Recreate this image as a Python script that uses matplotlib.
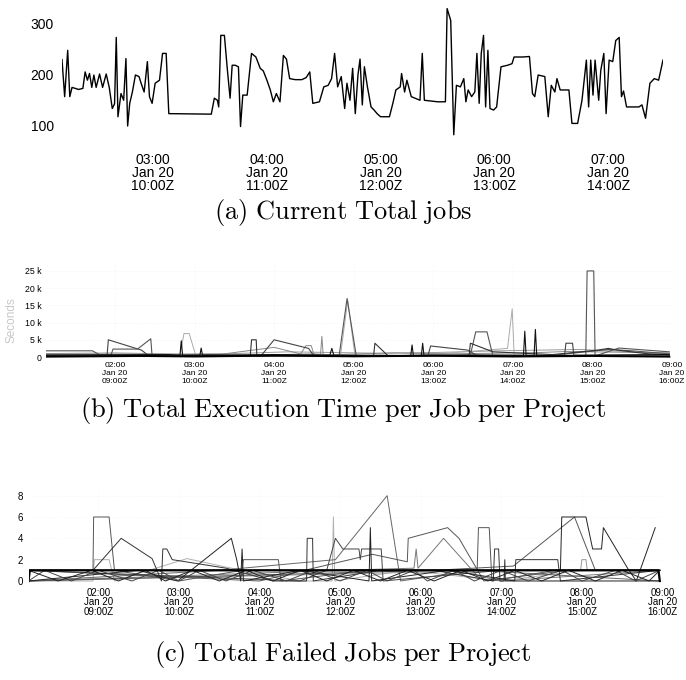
import matplotlib
matplotlib.use("Agg")
import matplotlib.pyplot as plt

plt.rcParams["font.family"] = ["Liberation Sans", "DejaVu Sans"]
plt.rcParams["mathtext.fontset"] = "cm"

# x values are minutes after 02:00 (local) on Jan 20
# (a) current total jobs
jobs_min = [12.1, 13.5, 15.1, 16.2, 17.4, 20.8, 23.1, 24.3, 25.5, 26.6,
            27.8, 28.9, 30.1, 31.9, 33.5, 35.4, 37.0, 38.6, 39.8, 40.7,
            41.6, 43.2, 44.6, 45.8, 46.7, 47.8, 49.2, 50.8, 52.7, 53.8,
            55.4, 57.1, 58.2, 59.6, 61.2, 63.5, 65.1, 67.0, 68.4, 90.8,
            92.4, 94.0, 94.7, 95.8, 97.7, 99.3, 100.7, 101.8, 103.4, 105.1,
            106.2, 107.4, 109.7, 112.0, 114.3, 116.6, 118.2, 120.1, 121.9, 123.5,
            125.1, 127.0, 128.8, 130.4, 132.1, 135.1, 138.5, 140.8, 142.7, 144.3,
            147.8, 150.1, 152.4, 154.2, 155.8, 157.4, 159.3, 161.1, 162.3, 163.9,
            165.3, 166.7, 168.1, 169.2, 170.4, 171.5, 173.1, 175.0, 176.6, 178.2,
            180.0, 182.4, 184.7, 186.5, 188.1, 190.4, 191.1, 192.7, 193.9, 196.2,
            200.8, 202.0, 203.1, 210.1, 214.2, 215.1, 217.0, 218.6, 220.0, 222.1,
            223.9, 225.0, 226.2, 228.0, 229.7, 230.8, 232.0, 233.1, 234.3, 235.4,
            236.6, 237.7, 239.6, 241.2, 243.5, 247.0, 249.3, 250.4, 255.0, 258.5,
            260.1, 261.3, 263.1, 266.6, 268.4, 270.0, 271.9, 273.0, 274.7, 279.3,
            280.9, 283.9, 286.2, 288.5, 289.7, 290.8, 292.0, 293.1, 295.0, 296.1,
            297.7, 298.9, 300.5, 302.4, 304.0, 305.8, 307.0, 308.1, 309.7, 316.2,
            317.8, 319.7, 322.0, 324.3, 326.6, 328.9]
jobs_val = [229, 157, 247, 157, 175, 171, 173, 205, 189, 202,
            175, 199, 175, 201, 175, 201, 175, 134, 143, 272,
            118, 163, 150, 231, 100, 144, 166, 199, 196, 183,
            166, 225, 157, 144, 183, 189, 241, 241, 124, 123,
            154, 150, 137, 276, 276, 208, 154, 218, 218, 215,
            99, 160, 160, 241, 234, 212, 207, 189, 170, 147,
            163, 147, 237, 230, 192, 190, 190, 194, 205, 144,
            147, 176, 179, 192, 241, 176, 196, 134, 183, 150,
            212, 124, 199, 230, 141, 215, 176, 137, 131, 124,
            118, 118, 118, 144, 170, 176, 202, 166, 189, 157,
            150, 241, 150, 147, 147, 328, 305, 83, 179, 176,
            192, 147, 170, 157, 166, 241, 144, 241, 276, 137,
            247, 134, 131, 137, 215, 218, 221, 234, 234, 235,
            163, 157, 199, 196, 118, 179, 166, 192, 170, 170,
            105, 105, 150, 228, 137, 228, 160, 228, 150, 208,
            241, 124, 228, 225, 266, 272, 157, 168, 137, 137,
            141, 115, 183, 192, 189, 228]

# (b) total execution time per job per project, seconds
exec_1_t = [-52, -17, -11, 20, 60, 100, 150, 210, 270, 330, 372, 390, 418]
exec_1_v = [1800, 1800, 500, 400, 700, 500, 600, 400, 700, 500, 2200, 1800, 900]
exec_2_t = [-52, -6, -5, 20, 26, 60, 110, 120, 146, 150, 200, 236, 238, 266, 274,
            330, 339, 340, 345, 346, 418]
exec_2_v = [300, 300, 5000, 2000, 200, 600, 300, 5000, 2500, 300, 500, 400, 3200, 2000, 200,
            300, 300, 4000, 4000, 500, 600]
exec_3_t = [-52, -3, -1.5, 17, 27, 28, 90, 169, 175, 182, 240, 268, 272, 280.5, 285,
            330, 355, 356, 361, 362, 380, 418]
exec_3_v = [500, 500, 2300, 2300, 5300, 200, 300, 300, 17000, 200, 600, 600, 7300, 7300, 300,
            500, 300, 25000, 25000, 300, 2600, 1500]
exec_4_t = [-52, 30, 49, 52, 56, 61, 100, 150, 170, 175.5, 181, 230, 296, 299.5, 301, 350, 418]
exec_4_v = [200, 300, 300, 6800, 6800, 300, 400, 1000, 300, 16500, 200, 500, 2500, 14000, 500, 300, 400]
exec_5_t = [-52, 40, 49, 50, 51, 64, 65, 66, 120, 162, 163.5, 165, 223, 224, 225,
            231, 232, 233, 308, 309, 310, 316, 317, 318, 418]
exec_5_v = [600, 700, 500, 4700, 400, 400, 2600, 500, 700, 500, 2500, 500, 400, 3500, 400,
            400, 4000, 400, 400, 7500, 400, 400, 8000, 400, 700]
exec_6_t = [-52, 60, 102, 103, 106.5, 107, 150, 195, 196, 206, 260, 267, 268, 285,
            330, 364, 372, 379, 400, 418]
exec_6_v = [400, 300, 300, 5000, 5000, 300, 500, 300, 4000, 300, 400, 400, 4000, 1500,
            700, 2000, 2500, 2000, 1000, 600]
exec_7_t = [-52, 80, 120, 140, 144, 148, 150, 155, 156, 157, 210, 250, 320, 340, 418]
exec_7_v = [900, 800, 2800, 900, 3300, 3300, 700, 700, 6000, 600, 1200, 900, 1300, 1600, 1200]
exec_8_t = [-52, 20, 60, 120, 180, 240, 300, 360, 418]
exec_8_v = [100, 300, 150, 400, 200, 350, 150, 300, 100]
exec_9_t = [-52, 0, 50, 90, 130, 200, 240, 290, 350, 418]
exec_9_v = [1000, 1200, 800, 1000, 1500, 1100, 1300, 1800, 2200, 1000]

# (c) total failed jobs per project
fail_1_t = [-52, -4, -3.5, 8, 12, 60, 107, 108, 134, 136, 200, 282, 283, 291, 293, 340, 418]
fail_1_v = [1, 1, 6, 6, 1, 0, 1, 2, 2, 0, 1, 1, 5, 5, 0, 1, 1]
fail_2_t = [-52, -4, -3, 8, 12, 66, 95, 150, 174, 175, 176, 230, 300, 360, 418]
fail_2_v = [0, 0, 2, 2, 0, 2.1, 1.3, 0, 0, 6, 0, 1, 0, 1, 1]
fail_3_t = [-52, -4, 17, 40, 47, 48, 51, 55, 95, 130, 155, 155.5, 159.5, 160, 210, 418]
fail_3_v = [1, 1, 4, 2.1, 0, 3, 3, 2, 1.2, 0, 0, 4, 4, 0, 1, 1]
fail_4_t = [-52, 30, 59, 99, 103, 106, 107, 108, 150, 201.5, 202.5, 203.5, 260, 310, 418]
fail_4_v = [0, 1, 0, 4, 2, 0, 3, 0, 1, 0, 5, 0, 1, 0, 0]
fail_5_t = [-52, 90, 176.5, 215, 225, 280, 418]
fail_5_v = [0, 1, 2, 8, 0, 1, 0]
fail_6_t = [-52, 150, 170, 176.5, 182, 183, 194, 195, 196, 210.6, 212, 300, 418]
fail_6_v = [1, 0, 1, 4, 3, 3, 3, 2, 3, 3, 0, 1, 1]
fail_7_t = [-52, 120, 204, 230, 230.7, 260, 268.5, 287, 350, 418]
fail_7_v = [1, 0, 2.5, 1.8, 4, 5, 4, 0, 1, 1]
fail_8_t = [-52, 180, 235, 236.6, 238, 257, 282, 300, 418]
fail_8_v = [0, 1, 1.2, 3, 1.2, 4, 0.5, 0, 1]
fail_9_t = [-52, 250, 294, 295, 298, 299, 302, 302.6, 303, 310, 310.8, 342, 344, 418]
fail_9_v = [1, 1, 0, 3, 3, 0, 0, 2, 0, 0, 2, 2, 0, 1]
fail_10_t = [-52, 250, 309, 354.5, 370, 418]
fail_10_v = [0, 1, 1.4, 6, 1, 1]
fail_11_t = [-52, 280, 344, 345, 363, 368, 374.6, 376, 394, 400.5, 414.6]
fail_11_v = [1, 1, 1, 6, 6, 3, 3, 5, 1.2, 0, 5]
fail_12_t = [-52, 300, 359, 360, 363, 364, 418]
fail_12_v = [0, 1, 1, 2, 2, 1, 1]
fail_13_t = [-52, -51, 0, 40, 80, 100, 140, 180, 220, 260, 300, 340, 380, 417, 418]
fail_13_v = [0, 1, 1, 1, 1, 1, 1, 1, 1, 1, 1, 1, 1, 1, 0]
fail_14_t = [-52, -30, -5, 15, 35, 50, 70, 90, 110, 130, 150, 170, 190, 210, 230,
             250, 270, 290, 310, 330, 350, 370, 390, 410, 418]
fail_14_v = [1, 0, 1, 0, 1, 0, 1, 0, 1, 0, 1, 0, 1, 0, 1,
             0, 1, 0, 1, 0, 1, 0, 1, 0, 1]
fail_15_t = [-52, -40, -20, 0, 25, 45, 60, 75, 95, 115, 140, 160, 180, 200, 215,
             235, 245, 265, 280, 300, 320, 345, 360, 385, 400, 418]
fail_15_v = [0, 1, 0, 1, 0, 1, 0, 1, 0, 1, 0, 1, 0, 1, 0,
             1, 0, 1, 0, 1, 0, 1, 0, 1, 0, 1]

hours_a = [3, 4, 5, 6, 7]
hours_bc = [2, 3, 4, 5, 6, 7, 8, 9]
utc_offset = 7

W, H = 686, 680
fig = plt.figure(figsize=(W / 100, H / 100), dpi=100)


def px_axes(left, top, right, bottom):
    return fig.add_axes([left / W, 1 - bottom / H, (right - left) / W, (bottom - top) / H])


def hour_ticks(ax, hours, size, pad, spacing):
    ax.set_xticks([(h - 2) * 60 for h in hours])
    ax.set_xticklabels([f"{h:02d}:00\nJan 20\n{h + utc_offset:02d}:00Z" for h in hours])
    for lbl in ax.get_xticklabels():
        lbl.set_linespacing(spacing)
    ax.tick_params(axis="x", length=0, labelsize=size, pad=pad)


def clean(ax):
    for s in ax.spines.values():
        s.set_visible(False)


# (a)
ax_a = px_axes(62, 5, 663, 140)
ax_a.plot(jobs_min, jobs_val, color="black", lw=1.0)
ax_a.set_xlim(12.1, 328.9)
ax_a.set_ylim(72.8, 335)
ax_a.set_yticks([100, 200, 300])
ax_a.tick_params(axis="y", length=0, labelsize=10, pad=6)
hour_ticks(ax_a, hours_a, 10, 9.5, 0.9)
clean(ax_a)

# (b)
exec_series = [
    (exec_9_t, exec_9_v, "#9a9a9a", 0.7),
    (exec_4_t, exec_4_v, "#aaaaaa", 0.7),
    (exec_7_t, exec_7_v, "#888888", 0.7),
    (exec_1_t, exec_1_v, "#555555", 0.8),
    (exec_2_t, exec_2_v, "#444444", 0.8),
    (exec_3_t, exec_3_v, "#555555", 0.8),
    (exec_6_t, exec_6_v, "#333333", 0.8),
    (exec_5_t, exec_5_v, "#111111", 0.8),
    (exec_8_t, exec_8_v, "#000000", 1.4),
]
ax_b = px_axes(46, 262, 672, 359)
for t, v, c, w in exec_series:
    ax_b.plot(t, v, color=c, lw=w)
ax_b.set_xlim(-52, 418)
ax_b.set_ylim(-580, 27600)
ax_b.set_yticks([0, 5000, 10000, 15000, 20000, 25000])
ax_b.set_yticklabels(["0", "5 k", "10 k", "15 k", "20 k", "25 k"])
ax_b.tick_params(axis="y", length=0, labelsize=6.3, pad=3)
hour_ticks(ax_b, hours_bc, 6, 2.5, 1.13)
ax_b.grid(True, color="#f0f0f0", lw=0.5, ls=":")
ax_b.set_axisbelow(True)
clean(ax_b)
fig.text(12 / W, 1 - 320 / H, "Seconds", rotation=90, color="#c8c8c8",
         fontsize=8.5, ha="center", va="center")

# (c)
fail_series = [
    (fail_2_t, fail_2_v, "#b0b0b0", 0.7),
    (fail_12_t, fail_12_v, "#999999", 0.7),
    (fail_8_t, fail_8_v, "#777777", 0.7),
    (fail_5_t, fail_5_v, "#666666", 0.7),
    (fail_10_t, fail_10_v, "#555555", 0.7),
    (fail_7_t, fail_7_v, "#555555", 0.7),
    (fail_1_t, fail_1_v, "#555555", 0.7),
    (fail_6_t, fail_6_v, "#444444", 0.7),
    (fail_9_t, fail_9_v, "#333333", 0.7),
    (fail_3_t, fail_3_v, "#333333", 0.7),
    (fail_11_t, fail_11_v, "#222222", 0.7),
    (fail_4_t, fail_4_v, "#222222", 0.7),
    (fail_15_t, fail_15_v, "#444444", 0.7),
    (fail_14_t, fail_14_v, "#222222", 0.7),
    (fail_13_t, fail_13_v, "#000000", 1.6),
]
ax_c = px_axes(28.5, 490, 662.5, 583)
for t, v, c, w in fail_series:
    ax_c.plot(t, v, color=c, lw=w)
ax_c.set_xlim(-52, 418)
ax_c.set_ylim(-0.19, 8.53)
ax_c.set_yticks([0, 2, 4, 6, 8])
ax_c.tick_params(axis="y", length=0, labelsize=7, pad=4)
hour_ticks(ax_c, hours_bc, 7, 3.5, 0.92)
ax_c.grid(True, color="#f4f4f4", lw=0.5, ls=":")
ax_c.set_axisbelow(True)
clean(ax_c)

captions = [
    (212, r"$\mathrm{(a)\ Current\ Total\ jobs}$"),
    (410, r"$\mathrm{(b)\ Total\ Execution\ Time\ per\ Job\ per\ Project}$"),
    (655, r"$\mathrm{(c)\ Total\ Failed\ Jobs\ per\ Project}$"),
]
for y, txt in captions:
    fig.text(0.5, 1 - y / H, txt, ha="center", va="center", fontsize=19)

fig.savefig("out.png", dpi=100)
